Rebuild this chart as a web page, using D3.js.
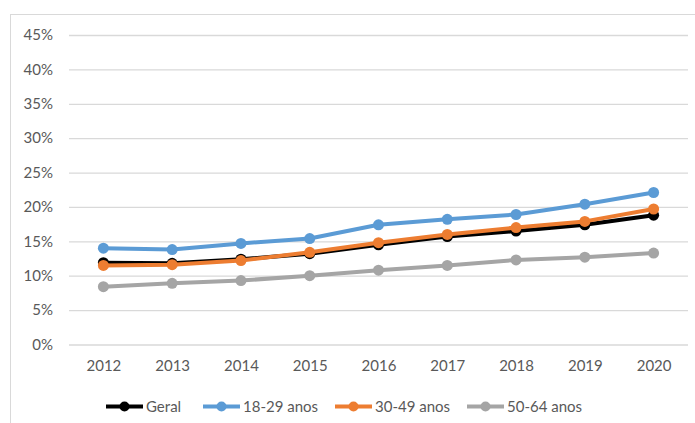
<!DOCTYPE html>
<html>
<head>
<meta charset="utf-8">
<script src="https://cdn.jsdelivr.net/npm/d3@7"></script>
<style>
  html, body { margin: 0; padding: 0; background: #fff; }
  svg { display: block; }
  text { font-family: Lato, "Open Sans", "Liberation Sans", sans-serif; }
</style>
</head>
<body>
<svg id="chart" width="695" height="423"></svg>
<script>
// Share of population by age group, 2012–2020
const years = ["2012", "2013", "2014", "2015", "2016", "2017", "2018", "2019", "2020"];
const geral   = [11.9, 11.8, 12.4, 13.2, 14.5, 15.7, 16.5, 17.4, 18.8];
const anos1829 = [14.0, 13.8, 14.7, 15.4, 17.4, 18.2, 18.9, 20.4, 22.1];
const anos3049 = [11.5, 11.6, 12.2, 13.4, 14.8, 16.0, 17.0, 17.9, 19.7];
const anos5064 = [8.4, 8.9, 9.3, 10.0, 10.8, 11.5, 12.3, 12.7, 13.3];
const yTicks = [0, 5, 10, 15, 20, 25, 30, 35, 40, 45];

const series = [
  { name: "Geral", values: geral, color: "#000000" },
  { name: "18-29 anos", values: anos1829, color: "#5B9BD5" },
  { name: "30-49 anos", values: anos3049, color: "#ED7D31" },
  { name: "50-64 anos", values: anos5064, color: "#A5A5A5" }
];

const svg = d3.select("#chart");

// outer chart frame
svg.append("rect")
  .attr("x", 10.5).attr("y", 14.5)
  .attr("width", 700).attr("height", 420)
  .attr("fill", "none").attr("stroke", "#d9d9d9").attr("stroke-width", 1);

const plot = { left: 69, right: 688, top: 35, bottom: 344.5 };

const x = d3.scalePoint().domain(years).range([plot.left, plot.right]).padding(0.5);
const y = d3.scaleLinear().domain([0, 45]).range([plot.bottom, plot.top]);

// horizontal gridlines + y labels
const yAxis = d3.axisLeft(y)
  .tickValues(yTicks)
  .tickSize(-(plot.right - plot.left))
  .tickPadding(16)
  .tickFormat(d => d + "%");
const gy = svg.append("g").attr("transform", `translate(${plot.left},0)`).call(yAxis);
gy.select(".domain").remove();
gy.selectAll(".tick line").attr("stroke", "#d9d9d9").attr("stroke-width", 1.3);
gy.selectAll(".tick text").attr("fill", "#595959").style("font-size", "15px");

// x labels
const xAxis = d3.axisBottom(x).tickSize(0).tickPadding(16);
const gx = svg.append("g").attr("transform", `translate(0,${plot.bottom})`).call(xAxis);
gx.select(".domain").remove();
gx.selectAll(".tick text").attr("fill", "#595959").style("font-size", "15px");

const line = d3.line().x((d, i) => x(years[i])).y(d => y(d));

series.forEach(s => {
  const g = svg.append("g");
  g.append("path")
    .datum(s.values)
    .attr("d", line)
    .attr("fill", "none")
    .attr("stroke", s.color)
    .attr("stroke-width", 4)
    .attr("stroke-linejoin", "round");
  g.selectAll("circle")
    .data(s.values)
    .join("circle")
    .attr("cx", (d, i) => x(years[i]))
    .attr("cy", d => y(d))
    .attr("r", 5.5)
    .attr("fill", s.color);
});

// legend
const legendX = [106, 203, 335, 467];
const legendY = 406.5;
series.forEach((s, i) => {
  const g = svg.append("g").attr("transform", `translate(${legendX[i]},${legendY})`);
  g.append("line").attr("x1", 0).attr("x2", 37).attr("y1", 0).attr("y2", 0)
    .attr("stroke", s.color).attr("stroke-width", 4);
  g.append("circle").attr("cx", 18.5).attr("cy", 0).attr("r", 5).attr("fill", s.color);
  g.append("text").attr("x", 40).attr("y", 0).attr("dy", "0.35em")
    .attr("fill", "#595959").style("font-size", "15px").text(s.name);
});
</script>
</body>
</html>
